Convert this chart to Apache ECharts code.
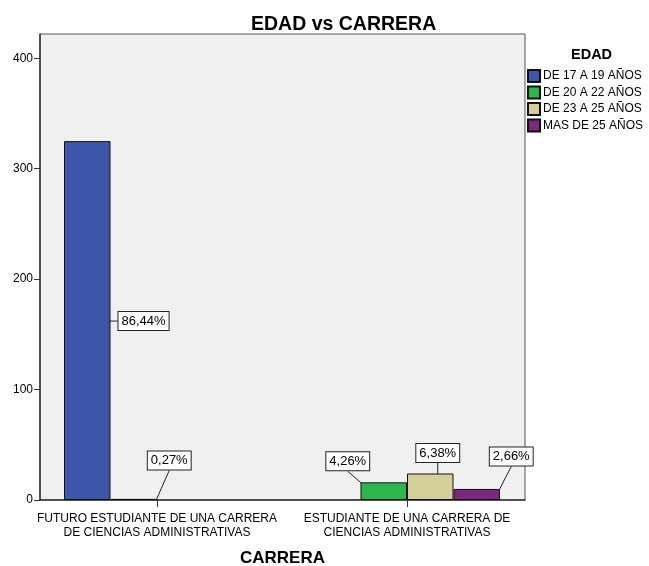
<!DOCTYPE html>
<html>
<head>
<meta charset="utf-8">
<script src="https://cdn.jsdelivr.net/npm/echarts@6/dist/echarts.min.js"></script>
<style>
  html, body { margin: 0; padding: 0; background: #fff; }
  #chart { width: 649px; height: 566px; }
</style>
</head>
<body>
<div id="chart"></div>
<script>
// categorias (CARRERA) y grupos de EDAD
const carreras = ['FUTURO ESTUDIANTE DE UNA CARRERA\nDE CIENCIAS ADMINISTRATIVAS', 'ESTUDIANTE DE UNA CARRERA DE\nCIENCIAS ADMINISTRATIVAS'];
const edades = ['DE 17 A 19 AÑOS', 'DE 20 A 22 AÑOS', 'DE 23 A 25 AÑOS', 'MAS DE 25 AÑOS'];
const colores = ['#3d56a9', '#2db64a', '#d4cf98', '#7a2a7b'];
// recuentos por edad, una entrada por carrera
const edad17a19 = [325, 0];
const edad20a22 = [1, 16];
const edad23a25 = [0, 24];
const edadMas25 = [0, 10];
// porcentajes mostrados (null = sin etiqueta)
const pct17a19 = ['86,44%', null];
const pct20a22 = ['0,27%', '4,26%'];
const pct23a25 = [null, '6,38%'];
const pctMas25 = [null, '2,66%'];
const yTicks = [0, 100, 200, 300, 400];

const valores = [edad17a19, edad20a22, edad23a25, edadMas25];
const pcts = [pct17a19, pct20a22, pct23a25, pctMas25];

// donde va cada caja de etiqueta: side = a la derecha de la barra,
// si no, desde un punto del borde superior (ax) hasta el centro de la caja (dx, dy)
const labelPos = [
  [{side: true, dx: 7, dy: 0.5}, null],
  [{ax: 1.5, dx: 34, dy: -38.5}, {ax: -7, dx: -29, dy: -21}],
  [null, {ax: 5, dx: 2.5, dy: -20.5}],
  [null, {ax: 2, dx: 32.5, dy: -32.5}]
];

const labelBox = {
  show: true,
  color: '#000',
  fontSize: 13,
  fontFamily: 'Liberation Sans, Arial, sans-serif',
  backgroundColor: '#fff',
  borderColor: '#222',
  borderWidth: 1,
  padding: [3, 3, 2, 3]
};

function layoutLabel(p) {
  const o = labelPos[p.seriesIndex][p.dataIndex];
  if (!o) return;
  const r = p.rect;
  const w = p.labelRect.width, h = p.labelRect.height;
  if (o.side) {
    const sx = r.x + r.width, sy = r.y + r.height / 2 + o.dy;
    return {
      x: sx + o.dx + w / 2, y: sy, align: 'center', verticalAlign: 'middle',
      labelLinePoints: [[sx, sy], [sx + o.dx, sy]]
    };
  }
  const sx = r.x + r.width / 2 + o.ax, sy = r.y;
  const cx = sx + o.dx, cy = sy + o.dy;
  const ex = Math.min(Math.max(sx, cx - w / 2 + 1), cx + w / 2 - 1);
  return {
    x: cx, y: cy, align: 'center', verticalAlign: 'middle',
    labelLinePoints: [[sx, sy], [ex, cy + h / 2]]
  };
}

const series = edades.map((name, s) => ({
  name: name,
  type: 'bar',
  barWidth: 46.5,
  barGap: '0%',
  itemStyle: {color: colores[s], borderColor: '#111', borderWidth: 1},
  labelLine: {show: true, lineStyle: {color: '#222', width: 1}},
  labelLayout: layoutLabel,
  emphasis: {disabled: true},
  data: valores[s].map((v, i) => {
    const item = {value: [i, v]};
    if (v === 0) item.itemStyle = {borderWidth: 0};
    if (pcts[s][i]) {
      item.label = Object.assign({}, labelBox, {position: 'top', formatter: pcts[s][i]});
    } else {
      item.label = {show: false};
    }
    return item;
  })
}));

const chart = echarts.init(document.getElementById('chart'));
chart.setOption({
  animation: false,
  backgroundColor: '#fff',
  textStyle: {fontFamily: 'Liberation Sans, Arial, sans-serif'},
  title: [
    {text: 'EDAD vs CARRERA', left: 246, top: 10,
     textStyle: {fontSize: 19.5, fontWeight: 'bold', color: '#000'}},
    {text: 'EDAD', left: 566, top: 42,
     textStyle: {fontSize: 14.5, fontWeight: 'bold', color: '#000'}}
  ],
  legend: {
    orient: 'vertical',
    left: 527,
    top: 69,
    padding: 0,
    itemWidth: 12,
    itemHeight: 12,
    itemGap: 2.5,
    icon: 'rect',
    textStyle: {fontSize: 12, color: '#000', padding: [0, 0, 0, -2]},
    data: edades
  },
  grid: {
    left: 40, right: 124, top: 34, bottom: 66,
    containLabel: false, outerBoundsMode: 'none',
    show: true, backgroundColor: '#f0f0f0', borderColor: '#555', borderWidth: 1
  },
  xAxis: {
    type: 'value',
    min: -0.468,
    max: 1.472,
    name: 'CARRERA',
    nameLocation: 'middle',
    nameGap: 50,
    nameTextStyle: {fontSize: 17, fontWeight: 'bold', color: '#000'},
    axisLine: {show: true, onZero: false, lineStyle: {color: '#333', width: 1.5}},
    axisTick: {show: true, length: 7, customValues: [0, 1], lineStyle: {color: '#333'}},
    axisLabel: {
      fontSize: 12, color: '#000', lineHeight: 14, margin: 12,
      customValues: [0, 1],
      formatter: v => carreras[Math.round(v)]
    },
    splitLine: {show: false}
  },
  yAxis: {
    type: 'value',
    min: 0,
    max: 422,
    axisLine: {show: true, onZero: false, lineStyle: {color: '#333', width: 1.5}},
    axisTick: {show: true, length: 6, customValues: yTicks, lineStyle: {color: '#333'}},
    axisLabel: {fontSize: 12, color: '#000', margin: 7, customValues: yTicks},
    splitLine: {show: false}
  },
  series: series
});
</script>
</body>
</html>
